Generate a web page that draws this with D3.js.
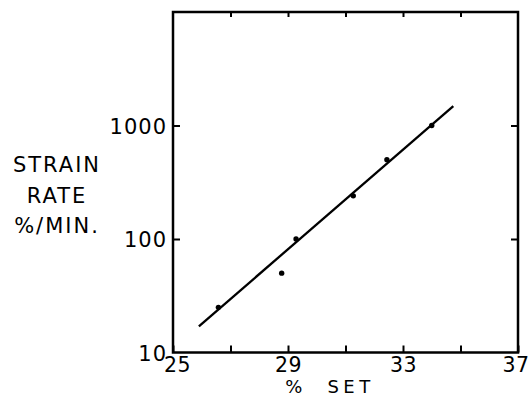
<!DOCTYPE html>
<html>
<head>
<meta charset="utf-8">
<script src="https://cdn.jsdelivr.net/npm/d3@7/dist/d3.min.js"></script>
<style>
  html, body { margin: 0; padding: 0; background: #fff; }
  svg { display: block; }
  text { font-family: "DejaVu Sans", sans-serif; fill: #000; }
</style>
</head>
<body>
<script>
// Data
const percentSet = [26.58, 28.78, 29.28, 31.27, 32.44, 34.0];
const strainRate = [25, 50, 100, 240, 500, 1000];
// Fitted line endpoints (as drawn)
const fitX = [25.9, 34.75];
const fitY = [17, 1480];
// Axis ticks
const xTicks = [25, 27, 29, 31, 33, 35, 37];
const xTickLabels = ["25", "", "29", "", "33", "", "37"];
const yTicks = [10, 100, 1000];
const yTickLabels = ["10", "100", "1000"];
const yTitle = ["STRAIN", "RATE", "%/MIN."];
const xTitle = "% SET";

const W = 530, H = 397;
const mLeft = 173, mRight = 518, mTop = 12, mBottom = 352.5;

const svg = d3.select("body").append("svg").attr("width", W).attr("height", H);

const x = d3.scaleLinear().domain([25, 37]).range([mLeft, mRight]);
const y = d3.scaleLog().domain([10, 10000]).range([mBottom, mTop]);

// Frame
svg.append("rect")
  .attr("x", mLeft).attr("y", mTop)
  .attr("width", mRight - mLeft).attr("height", mBottom - mTop)
  .attr("fill", "none").attr("stroke", "#000").attr("stroke-width", 2.5);

// Bottom axis (ticks inward)
const xAxis = d3.axisBottom(x).tickValues(xTicks)
  .tickFormat((d, i) => xTickLabels[i]).tickSizeInner(-7).tickSizeOuter(0).tickPadding(5);
const gx = svg.append("g").attr("transform", `translate(0,${mBottom})`).call(xAxis);
gx.select(".domain").remove();
gx.selectAll(".tick line").attr("stroke", "#000").attr("stroke-width", 2);
gx.selectAll(".tick text").attr("font-size", 20.5).attr("letter-spacing", 0.5).attr("dy", "0.72em");
gx.selectAll(".tick").filter(d => d === 25).select("text").attr("dx", 4);
gx.selectAll(".tick").filter(d => d === 37).select("text")
  .attr("text-anchor", "end").attr("dx", 11);

// Top axis ticks (no labels)
const xAxisTop = d3.axisTop(x).tickValues(xTicks.slice(1, -1)).tickFormat("").tickSizeInner(-5).tickSizeOuter(0);
const gxt = svg.append("g").attr("transform", `translate(0,${mTop})`).call(xAxisTop);
gxt.select(".domain").remove();
gxt.selectAll(".tick line").attr("stroke", "#000").attr("stroke-width", 2);

// Left axis
const yAxis = d3.axisLeft(y).tickValues(yTicks)
  .tickFormat((d, i) => yTickLabels[i]).tickSizeInner(-7).tickSizeOuter(0).tickPadding(6);
const gy = svg.append("g").attr("transform", `translate(${mLeft},0)`).call(yAxis);
gy.select(".domain").remove();
gy.selectAll(".tick line").attr("stroke", "#000").attr("stroke-width", 2);
gy.selectAll(".tick text").attr("font-size", 21).attr("letter-spacing", 1).attr("dy", "0.36em");
gy.selectAll(".tick").filter(d => d === 10).select("line").remove();

// Right axis ticks
const yAxisR = d3.axisRight(y).tickValues(yTicks.slice(1)).tickFormat("").tickSizeInner(-7).tickSizeOuter(0);
const gyr = svg.append("g").attr("transform", `translate(${mRight},0)`).call(yAxisR);
gyr.select(".domain").remove();
gyr.selectAll(".tick line").attr("stroke", "#000").attr("stroke-width", 2);

// Fit line
svg.append("path")
  .datum(fitX.map((v, i) => [v, fitY[i]]))
  .attr("d", d3.line().x(d => x(d[0])).y(d => y(d[1])))
  .attr("fill", "none").attr("stroke", "#000").attr("stroke-width", 2.3);

// Points
svg.selectAll("circle.pt")
  .data(percentSet.map((v, i) => [v, strainRate[i]]))
  .join("circle").attr("class", "pt")
  .attr("cx", d => x(d[0])).attr("cy", d => y(d[1]))
  .attr("r", 2.7).attr("fill", "#000");

// Y title
const yt = svg.append("text").attr("font-size", 21).attr("letter-spacing", 2).attr("text-anchor", "middle");
yt.selectAll("tspan").data(yTitle).join("tspan")
  .attr("x", 57).attr("y", (d, i) => 172 + i * 30.5).text(d => d);

// X title
svg.append("text").attr("x", 330).attr("y", 392.5)
  .attr("font-size", 18).attr("letter-spacing", 4.5).attr("text-anchor", "middle")
  .style("white-space", "pre")
  .text(xTitle.replace(" ", "  "));
</script>
</body>
</html>
